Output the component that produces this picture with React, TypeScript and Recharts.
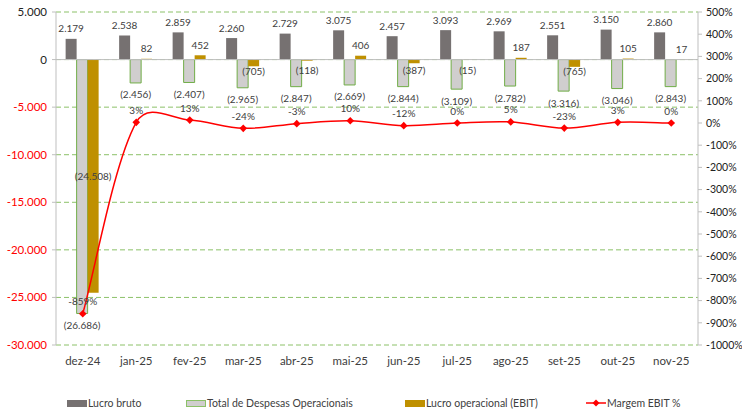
import React from 'react';
import { ComposedChart, Bar, Line, XAxis, YAxis, CartesianGrid, ReferenceLine, Legend, LabelList } from 'recharts';

const months = ['dez-24', 'jan-25', 'fev-25', 'mar-25', 'abr-25', 'mai-25', 'jun-25', 'jul-25', 'ago-25', 'set-25', 'out-25', 'nov-25'];
const lucroBruto = [2179, 2538, 2859, 2260, 2729, 3075, 2457, 3093, 2969, 2551, 3150, 2860];
const despesas = [-26686, -2456, -2407, -2965, -2847, -2669, -2844, -3109, -2782, -3316, -3046, -2843];
const ebit = [-24508, 82, 452, -705, -118, 406, -387, -15, 187, -765, 105, 17];
const margem = [-859, 3, 13, -24, -3, 10, -12, 0, 5, -23, 3, 0];
const leftTicks = [5000, 0, -5000, -10000, -15000, -20000, -25000, -30000];
const rightTicks = [500, 400, 300, 200, 100, 0, -100, -200, -300, -400, -500, -600, -700, -800, -900, -1000];

const data = months.map((m, i) => ({ m, bruto: lucroBruto[i], desp: despesas[i], ebit: ebit[i], margem: margem[i] }));

const FONT = 'Lato, "Open Sans", sans-serif';
const TXT = '#404040';

const thousands = (v: number) => String(Math.abs(Math.round(v))).replace(/\B(?=(\d{3})+(?!\d))/g, '.');
const axisNum = (v: number) => (v < 0 ? '-' : '') + thousands(v);
const acct = (v: number) => (v < 0 ? `(${thousands(v)})` : thousands(v));

// Excel-like smoothed line: bezier through the points, tangent damped when neighbouring segments differ in length
function excelCurve(context: any) {
  let pts: number[][] = [];
  const dist = (a: number[], b: number[]) => Math.hypot(b[0] - a[0], b[1] - a[1]);
  return {
    areaStart() {},
    areaEnd() {},
    lineStart() { pts = []; },
    lineEnd() {
      const n = pts.length;
      if (!n) return;
      context.moveTo(pts[0][0], pts[0][1]);
      for (let i = 0; i < n - 1; i++) {
        const p0 = pts[Math.max(i - 1, 0)], p1 = pts[i], p2 = pts[i + 1], p3 = pts[Math.min(i + 2, n - 1)];
        const d01 = dist(p0, p1), d12 = dist(p1, p2), d23 = dist(p2, p3);
        const f1 = d01 + d12 > 0 ? Math.sqrt((2 * d12) / (d01 + d12)) / 6 : 1 / 6;
        const f2 = d12 + d23 > 0 ? Math.sqrt((2 * d12) / (d12 + d23)) / 6 : 1 / 6;
        context.bezierCurveTo(
          p1[0] + (p2[0] - p0[0]) * f1, p1[1] + (p2[1] - p0[1]) * f1,
          p2[0] - (p3[0] - p1[0]) * f2, p2[1] - (p3[1] - p1[1]) * f2,
          p2[0], p2[1]);
      }
    },
    point(x: number, y: number) { pts.push([+x, +y]); },
  };
}

const LeftTick = (p: any) => (
  <text x={p.x - 3} y={p.y} dy="0.35em" textAnchor="end" fontSize={11.5} fontFamily={FONT} fill={p.payload.value < 0 ? '#FF0000' : '#222'}>
    {axisNum(p.payload.value)}
  </text>
);

const labelText = (x: number, y: number, s: string) => (
  <text x={x} y={y} dy="0.35em" textAnchor="middle" fontSize={10} fontFamily={FONT} fill={TXT}>{s}</text>
);

const TopLabel = (p: any) => {
  const top = Math.min(p.y, p.y + p.height);
  return labelText(p.x + p.width / 2, top - 10, acct(p.value));
};

const DespLabel = (p: any) => {
  const bottom = Math.max(p.y, p.y + p.height);
  return labelText(p.x + p.width / 2, bottom + 12, acct(p.value));
};

const EbitLabel = (p: any) => {
  const top = Math.min(p.y, p.y + p.height);
  const bottom = Math.max(p.y, p.y + p.height);
  const h = bottom - top;
  if (p.value >= 0) return labelText(p.x + p.width / 2, top - 10, acct(p.value));
  if (h > 50) return labelText(p.x + p.width / 2, top + h / 2, acct(p.value));
  return labelText(p.x + p.width / 2, Math.max(bottom + 5, top + 11), acct(p.value));
};

const MargemLabel = (p: any) => labelText(p.x, p.y - 12, `${p.value}%`);

const Diamond = (p: any) => {
  const { cx, cy } = p;
  if (cx == null || cy == null) return null;
  const r = 3.8;
  return <path key={p.index} d={`M${cx},${cy - r}L${cx + r},${cy}L${cx},${cy + r}L${cx - r},${cy}Z`} fill="#FF0000" />;
};

const legendItems = [
  { name: 'Lucro bruto', left: 67, kind: 'box', fill: '#767171', stroke: '#767171' },
  { name: 'Total de Despesas Operacionais', left: 186, kind: 'box', fill: '#D0CECE', stroke: '#8CC168' },
  { name: 'Lucro operacional (EBIT)', left: 405, kind: 'box', fill: '#BF9000', stroke: '#BF9000' },
  { name: 'Margem EBIT %', left: 586, kind: 'line', fill: '#FF0000', stroke: '#FF0000' },
];

const LegendContent = () => (
  <div style={{ position: 'relative', width: 742, height: 20, fontFamily: FONT, fontSize: 10.5, color: TXT }}>
    {legendItems.map((it) => (
      <div key={it.name} style={{ position: 'absolute', left: it.left, top: 0, height: 20, display: 'flex', alignItems: 'center', whiteSpace: 'nowrap' }}>
        {it.kind === 'box' ? (
          <svg width={20} height={7}><rect x={0.5} y={0.5} width={19} height={6} fill={it.fill} stroke={it.stroke} /></svg>
        ) : (
          <svg width={20} height={10}>
            <line x1={0} y1={5} x2={20} y2={5} stroke={it.stroke} strokeWidth={1.5} />
            <path d="M10,1.5L13.5,5L10,8.5L6.5,5Z" fill={it.fill} />
          </svg>
        )}
        <span style={{ marginLeft: 1 }}>{it.name}</span>
      </div>
    ))}
  </div>
);

export default function App() {
  return (
    <div style={{ position: 'absolute', left: 0, top: 0, width: 742, height: 412, background: '#fff' }}>
      <ComposedChart width={742} height={412} data={data} margin={{ top: 12, right: 0, bottom: 20, left: 0 }}
        barCategoryGap="18%" barGap={0}>
        <CartesianGrid vertical={false} stroke="#8CC168" strokeDasharray="5 3" yAxisId="left" />
        <XAxis dataKey="m" height={27} axisLine={false} tickLine={false} tickSize={0} tickMargin={12}
          tick={{ fontSize: 11.5, fontFamily: FONT, fill: TXT }} interval={0} />
        <YAxis yAxisId="left" orientation="left" width={56} domain={[-30000, 5000]} ticks={leftTicks} interval={0}
          tick={<LeftTick />} axisLine={{ stroke: '#BFBFBF' }} tickLine={{ stroke: '#BFBFBF' }} tickSize={4} />
        <YAxis yAxisId="right" orientation="right" width={44} domain={[-1000, 500]} ticks={rightTicks} interval={0}
          tickFormatter={(v) => `${v}%`} tick={{ fontSize: 10.5, fontFamily: FONT, fill: '#222', textAnchor: 'start' }}
          axisLine={{ stroke: '#BFBFBF' }} tickLine={{ stroke: '#BFBFBF' }} tickSize={4} tickMargin={4} />
        <ReferenceLine yAxisId="left" y={0} stroke="#BFBFBF" />
        <Legend verticalAlign="bottom" content={<LegendContent />} height={20} wrapperStyle={{ top: 393, bottom: 'auto', left: 0 }} />
        <Bar yAxisId="left" dataKey="bruto" name="Lucro bruto" fill="#767171" isAnimationActive={false}>
          <LabelList dataKey="bruto" content={<TopLabel />} />
        </Bar>
        <Bar yAxisId="left" dataKey="desp" name="Total de Despesas Operacionais" fill="#D0CECE" stroke="#70AD47" strokeWidth={1} isAnimationActive={false}>
          <LabelList dataKey="desp" content={<DespLabel />} />
        </Bar>
        <Bar yAxisId="left" dataKey="ebit" name="Lucro operacional (EBIT)" fill="#BF9000" isAnimationActive={false}>
          <LabelList dataKey="ebit" content={<EbitLabel />} />
        </Bar>
        <Line yAxisId="right" dataKey="margem" name="Margem EBIT %" type={excelCurve as any} stroke="#FF0000" strokeWidth={1.5}
          dot={<Diamond />} activeDot={false} isAnimationActive={false}>
          <LabelList dataKey="margem" content={<MargemLabel />} />
        </Line>
      </ComposedChart>
    </div>
  );
}
